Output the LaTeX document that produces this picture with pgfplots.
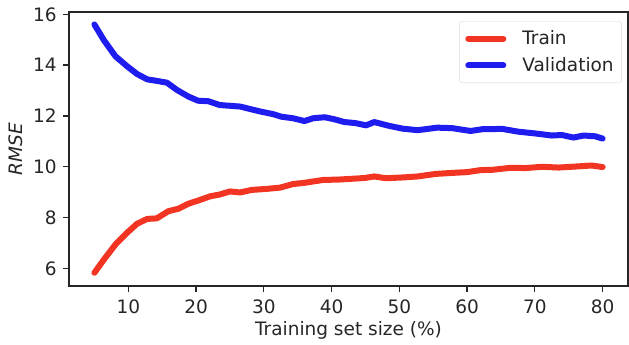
\documentclass[border=0pt]{standalone}
\usepackage{fontspec}
\setmainfont{DejaVu Sans}
\usepackage{pgfplots}
\pgfplotsset{compat=1.18}
\definecolor{trainred}{RGB}{242,52,34}
\definecolor{valblue}{RGB}{30,28,238}
\begin{document}
\fontsize{18.5}{22}\selectfont
\begin{tikzpicture}[x=1pt,y=1pt]
\begin{axis}[
  name=ax,
  at={(0,0)}, anchor=south west,
  scale only axis,
  width=559pt, height=274pt,
  xmin=1.25, xmax=83.75,
  ymin=5.31, ymax=16.09,
  xtick={10,20,...,80},
  ytick={6,8,...,16},
  tick align=outside,
  major tick length=6pt,
  tick style={line width=1.3pt, color=black!85},
  axis line style={line width=1.3pt, color=black!85},
  xtick pos=bottom, ytick pos=left,
  /pgf/number format/assume math mode=true,
  tick label style={font=\fontsize{18.5}{22}\selectfont, color=black!85},
  xticklabel style={yshift=-1pt},
  xlabel={Training set size (\%)},
  ylabel={\itshape RMSE},
  label style={font=\fontsize{18.5}{22}\selectfont, color=black!85},
  xlabel style={yshift=4pt},
  ylabel style={yshift=-2pt},
  legend style={at={(0.989,0.967)}, anchor=north east, draw=black!15, rounded corners=3pt,
    font=\fontsize{18.5}{22}\selectfont, inner xsep=6pt, inner ysep=7pt, row sep=6pt, text=black!85,
    /tikz/every odd column/.append style={column sep=14pt}},
  legend cell align=left,
  legend image code/.code={\draw[#1, line width=6pt, line cap=round] (3pt,0pt) -- (38pt,0pt);},
]
\addplot[trainred, line width=6pt, line join=round, line cap=round] coordinates {
(5,5.83) (6.4,6.35) (8.1,6.94) (9.8,7.40) (11.3,7.76) (12.8,7.95) (14.2,7.97)
(15.9,8.25) (17.4,8.35) (18.9,8.55) (20.3,8.67) (22.1,8.84) (23.5,8.91) (25,9.03)
(26.5,8.99) (28.2,9.09) (30.4,9.13) (32.4,9.18) (34.3,9.32) (36,9.37) (38.7,9.48)
(41.2,9.50) (43.1,9.53) (44.9,9.56) (46.3,9.62) (48,9.55) (50.5,9.58) (52.7,9.62)
(55.4,9.72) (57.8,9.76) (60,9.79) (62,9.87) (63.7,9.88) (66.4,9.96) (68.6,9.95)
(71.1,10.00) (73.5,9.97) (76,10.01) (78.4,10.05) (80,9.99)
};
\addlegendentry{Train}
\addplot[valblue, line width=6pt, line join=round, line cap=round] coordinates {
(5,15.60) (6.4,14.98) (8.1,14.35) (9.8,13.96) (11.3,13.65) (12.8,13.44) (14.2,13.38)
(15.7,13.31) (17.2,13.02) (18.9,12.76) (20.3,12.60) (21.8,12.58) (23.5,12.43)
(26.5,12.37) (29.4,12.18) (31.4,12.07) (32.6,11.97) (34.3,11.91) (36,11.80)
(37.3,11.91) (39,11.95) (40.4,11.87) (41.9,11.76) (43.5,11.72) (45.1,11.63)
(46.3,11.76) (48.5,11.61) (50.5,11.50) (52.7,11.44) (55.6,11.54) (57.8,11.52)
(60.5,11.41) (62.3,11.48) (65.2,11.49) (67.6,11.38) (70.1,11.31) (72.5,11.23)
(74,11.25) (75.7,11.15) (77.2,11.23) (78.9,11.20) (80,11.11)
};
\addlegendentry{Validation}
\end{axis}
\pgfresetboundingbox
\path[use as bounding box] (-69,-59) rectangle (560,286);
\end{tikzpicture}
\end{document}
